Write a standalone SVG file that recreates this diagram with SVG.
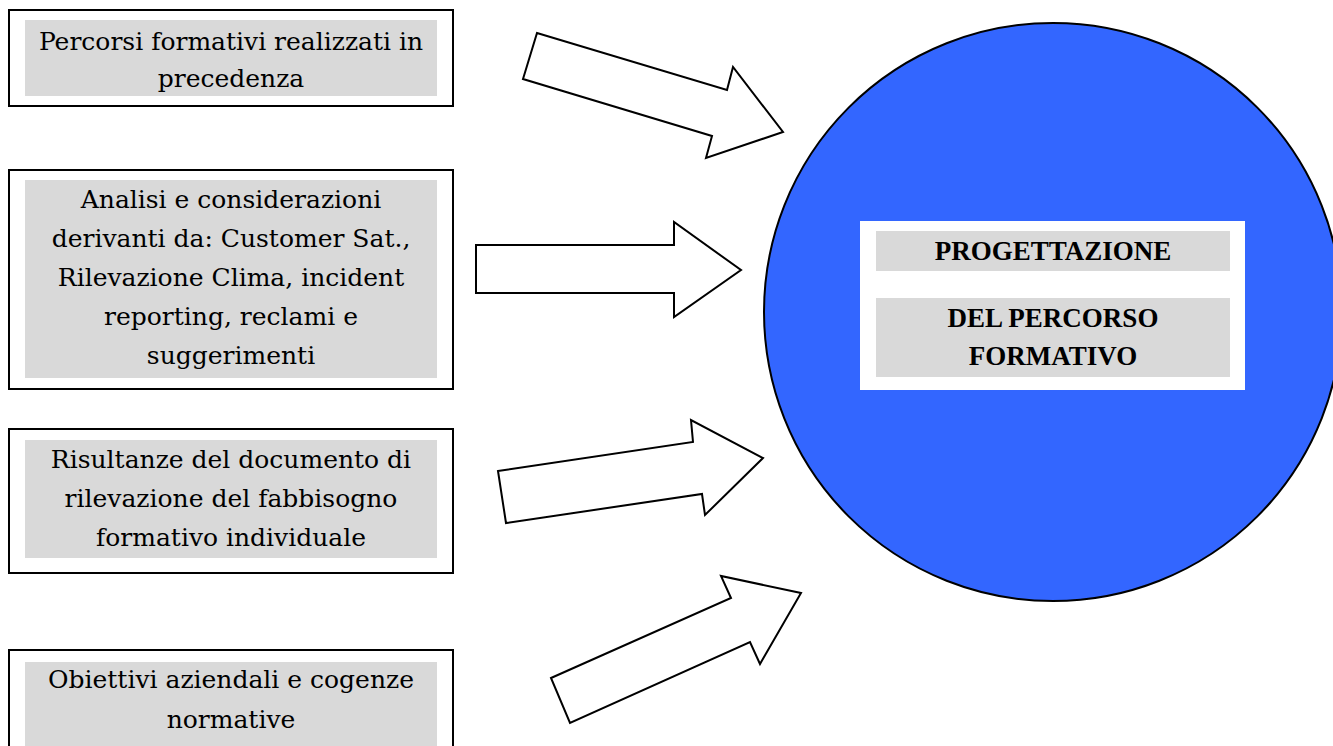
<svg xmlns="http://www.w3.org/2000/svg" width="1333" height="746" viewBox="0 0 1333 746">
<style>
.outer{fill:#fff;stroke:#000;stroke-width:2}
.shade{fill:#d9d9d9}
.t{font-family:"DejaVu Serif","Liberation Serif",serif;font-size:25px;fill:#000;text-anchor:middle}
.b{font-family:"Liberation Serif","DejaVu Serif",serif;font-size:27px;font-weight:bold;fill:#000;text-anchor:middle}
.arr{fill:#fff;stroke:#000;stroke-width:2;stroke-linejoin:miter}
</style>
<rect width="1333" height="746" fill="#fff"/>
<g id="node-percorsi">
<rect class="outer" x="9" y="10" width="444" height="96"/>
<rect class="shade" x="25" y="20" width="412" height="76"/>
<text class="t" x="231" y="50">Percorsi formativi realizzati in</text>
<text class="t" x="231" y="87">precedenza</text>
</g>
<g id="node-analisi">
<rect class="outer" x="9" y="170" width="444" height="219"/>
<rect class="shade" x="25" y="180" width="412" height="198"/>
<text class="t" x="231" y="208">Analisi e considerazioni</text>
<text class="t" x="231" y="247">derivanti da: Customer Sat.,</text>
<text class="t" x="231" y="286">Rilevazione Clima, incident</text>
<text class="t" x="231" y="325">reporting, reclami e</text>
<text class="t" x="231" y="364">suggerimenti</text>
</g>
<g id="node-risultanze">
<rect class="outer" x="9" y="429" width="444" height="144"/>
<rect class="shade" x="25" y="440" width="412" height="118"/>
<text class="t" x="231" y="468">Risultanze del documento di</text>
<text class="t" x="231" y="507">rilevazione del fabbisogno</text>
<text class="t" x="231" y="546">formativo individuale</text>
</g>
<g id="node-obiettivi">
<rect class="outer" x="9" y="650" width="444" height="110"/>
<rect class="shade" x="25" y="662" width="412" height="84"/>
<text class="t" x="231" y="688">Obiettivi aziendali e cogenze</text>
<text class="t" x="231" y="728">normative</text>
</g>
<g id="node-progettazione">
<circle cx="1053" cy="312" r="289" fill="#3366ff" stroke="#000" stroke-width="2"/>
<rect x="860" y="221" width="385" height="169" fill="#fff"/>
<rect class="shade" x="876" y="231" width="354" height="40"/>
<rect class="shade" x="876" y="298" width="354" height="79"/>
<text class="b" x="1053" y="260">PROGETTAZIONE</text>
<text class="b" x="1053" y="327">DEL PERCORSO</text>
<text class="b" x="1053" y="365">FORMATIVO</text>
</g>
<g id="connectors">
<polygon class="arr" points="537,33 727,90 733,67 783,132 706,158 712,136 523,79"/>
<polygon class="arr" points="476,245 674,245 674,222 741,270 674,317 674,293 476,293"/>
<polygon class="arr" points="498,471 693,442 691,420 763,458 705,515 702,494 506,523"/>
<polygon class="arr" points="551,678 731,598 721,576 801,593 760,664 750,642 570,723"/>
</g>
</svg>
